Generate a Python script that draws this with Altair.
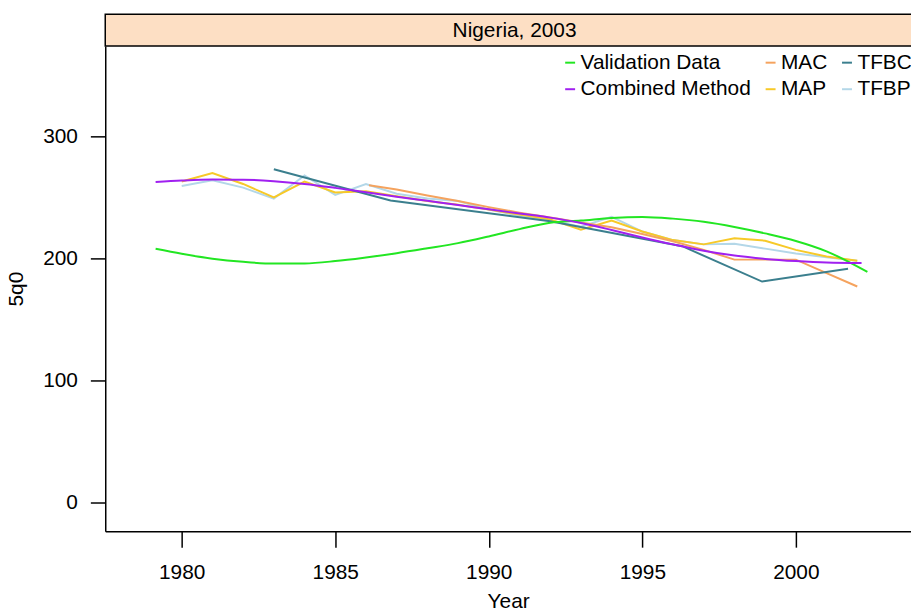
import altair as alt
import pandas as pd

strip_title = "Nigeria, 2003"
series_order = ["Validation Data", "Combined Method", "MAC", "MAP", "TFBC", "TFBP"]
series_colors = ["#22E622", "#A020F0", "#F5A35E", "#F7C928", "#3B7F8E", "#B3D7E8"]

val_years = [1979.15, 1980, 1981, 1982, 1983, 1984, 1985, 1986, 1987, 1988, 1989, 1990,
             1991, 1992, 1993, 1994, 1995, 1996, 1997, 1998, 1999, 2000, 2001, 2002.33]
val_vals = [207.9, 203.8, 199.8, 197.2, 195.8, 195.9, 197.8, 200.8, 204.3, 208.3, 212.5, 218.0,
            224.0, 229.3, 231.0, 233.2, 234.0, 232.6, 230.0, 225.8, 220.5, 214.3, 205.8, 188.9]

comb_years = [1979.15, 1980, 1981, 1982, 1983, 1984, 1985, 1986, 1987, 1988, 1989, 1990,
              1991, 1992, 1993, 1994, 1995, 1996, 1997, 1998, 1999, 2000, 2001, 2002.14]
comb_vals = [262.6, 263.8, 264.6, 264.5, 263.3, 261.0, 257.8, 254.2, 250.6, 247.2, 243.8, 240.2,
             236.8, 233.4, 229.0, 223.3, 217.2, 211.5, 206.3, 202.3, 199.6, 197.8, 196.6, 196.2]

mac_years = [1986.1, 1987, 1988, 1989, 1990, 1991, 1992, 1993, 1994, 1995, 1996, 1997,
             1998, 1999, 2000, 2001, 2002]
mac_vals = [260.0, 256.5, 251.5, 247.0, 242.0, 237.5, 233.5, 229.5, 225.5, 220.0, 214.0, 207.0,
            199.0, 199.0, 199.0, 188.0, 177.0]

map_years = [1980, 1981, 1982, 1983, 1984, 1985, 1986, 1987, 1988, 1989, 1990, 1991,
             1992, 1993, 1994, 1995, 1996, 1997, 1998, 1999, 2000, 2001, 2002]
map_vals = [263.0, 270.0, 261.0, 250.0, 263.0, 254.0, 255.0, 251.0, 247.0, 244.0, 240.0, 236.0,
            232.0, 223.5, 231.0, 222.0, 215.0, 211.5, 216.5, 214.5, 207.0, 201.5, 198.0]

tfbc_years = [1983.0, 1986.8, 1992.0, 1996.3, 1998.9, 2001.7]
tfbc_vals = [273.0, 247.5, 230.5, 210.0, 181.0, 191.5]

tfbp_years = [1980, 1981, 1982, 1983, 1984, 1985, 1986, 1987, 1988, 1989, 1990, 1991,
              1992, 1993, 1994, 1995, 1996, 1997, 1998, 1999, 2000, 2001, 2002]
tfbp_vals = [259.3, 264.0, 258.0, 249.0, 268.0, 252.0, 261.0, 253.0, 249.0, 247.0, 240.0, 235.0,
             231.0, 226.0, 234.0, 222.0, 215.0, 211.5, 212.0, 208.0, 204.0, 201.0, 198.0]

x_ticks = [1980, 1985, 1990, 1995, 2000]
y_ticks = [0, 100, 200, 300]
x_domain = [1977.51, 2003.75]
y_domain = [-23.6, 374.0]

FONT = "Liberation Sans"
W, H = 812, 489

series = {
    "Validation Data": (val_years, val_vals),
    "Combined Method": (comb_years, comb_vals),
    "MAC": (mac_years, mac_vals),
    "MAP": (map_years, map_vals),
    "TFBC": (tfbc_years, tfbc_vals),
    "TFBP": (tfbp_years, tfbp_vals),
}
rows = []
for name, (xs, ys) in series.items():
    for x, y in zip(xs, ys):
        rows.append({"Year": x, "5q0": y, "Series": name})
df = pd.DataFrame(rows)

color = alt.Color(
    "Series:N",
    scale=alt.Scale(domain=series_order, range=series_colors),
    legend=alt.Legend(
        title=None, orient="none", legendX=458, legendY=6, columns=3,
        columnPadding=9, rowPadding=5, symbolType="stroke", symbolSize=100,
        symbolStrokeWidth=2, labelFontSize=21, labelFont=FONT, labelColor="black",
        labelOffset=0, labelLimit=400, padding=0,
    ),
)

xenc = alt.X("Year:Q", scale=alt.Scale(domain=x_domain, nice=False, zero=False),
             axis=alt.Axis(values=x_ticks, format="d", tickSize=16, labelPadding=15,
                           title="Year", titleY=77, titleBaseline="alphabetic"))
yenc = alt.Y("5q0:Q", scale=alt.Scale(domain=y_domain, nice=False, zero=False),
             axis=alt.Axis(values=y_ticks, tickSize=15, labelPadding=13, title="5q0",
                           titlePadding=16, titleAngle=270))

draw_order = ["TFBP", "MAP", "MAC", "TFBC", "Validation Data", "Combined Method"]
layers = []
for name in draw_order:
    interp = "monotone" if name in ("Validation Data", "Combined Method") else "linear"
    layers.append(
        alt.Chart(df).transform_filter(alt.datum.Series == name)
        .mark_line(strokeWidth=2, interpolate=interp)
        .encode(x=xenc, y=yenc, color=color, detail="Series:N")
    )

strip_df = pd.DataFrame({"label": [strip_title]})
strip = alt.Chart(strip_df).mark_rect(fill="#FDDFC4", stroke="black", strokeWidth=1.5).encode(
    x=alt.value(0), x2=alt.value(W + 20), y=alt.value(-32), y2=alt.value(0)
)
strip_text = alt.Chart(strip_df).mark_text(font=FONT, fontSize=21, color="black",
                                           baseline="middle", align="center").encode(
    text="label:N", x=alt.value(412.5), y=alt.value(-15.5)
)

chart = alt.layer(*layers, strip, strip_text).properties(
    width=W, height=H,
    autosize=alt.AutoSizeParams(type="none"),
    padding={"left": 98, "top": 36, "right": 0, "bottom": 80},
).configure_view(strokeWidth=0).configure_axis(
    labelFont=FONT, titleFont=FONT, labelFontSize=21, titleFontSize=21,
    titleFontWeight="normal", labelColor="black", titleColor="black",
    domainColor="black", tickColor="black", domainWidth=1.5, tickWidth=1.5, grid=False,
)

chart.save("out.html", embed_options={"renderer": "svg", "actions": False})
